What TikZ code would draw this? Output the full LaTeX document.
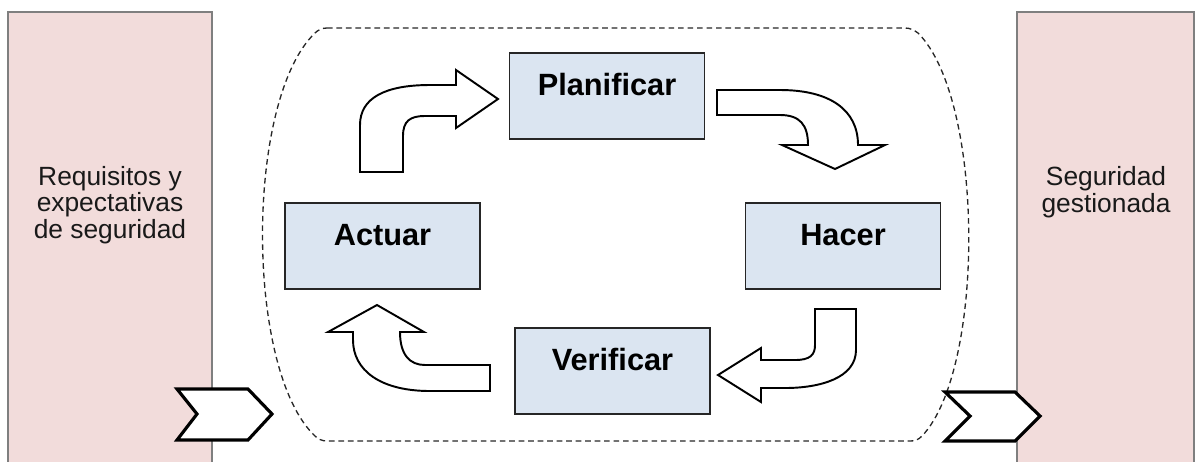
\documentclass[tikz,border=0pt]{standalone}
\usepackage{fontspec}
\setmainfont{Liberation Sans}
\usepackage{xcolor}
\usepackage{tikz}
\definecolor{pinkfill}{HTML}{F2DCDB}
\definecolor{pinkline}{HTML}{7F7F7F}
\definecolor{bluefill}{HTML}{DBE5F1}
\definecolor{boxline}{HTML}{262626}
\tikzset{
  side/.style={draw=pinkline, fill=pinkfill, line width=0.9pt},
  sidetext/.style={align=center, font=\fontsize{15}{15.2}\selectfont, text=black!90},
  phase/.style={draw=boxline, fill=bluefill, line width=1pt, inner sep=0pt,
    minimum width=3.9cm, text height=0.84cm, text depth=0.88cm,
    font=\fontsize{17.5}{20}\selectfont\bfseries},
  chevron/.style={draw=black, fill=white, line width=1.8pt, line join=miter},
  blockarrow/.style={draw=black, fill=white, line width=1.1pt, line join=miter},
  boundary/.style={draw=black!85, line width=0.75pt, dash pattern=on 3.2pt off 2.2pt}
}

\begin{document}
\begin{tikzpicture}[x=0.02cm, y=-0.02cm]
  \useasboundingbox (0,0) rectangle (1195,461);

  % side boxes
  \draw[side] (8,12) rectangle (212,480);
  \draw[side] (1017,12) rectangle (1194,480);
  \node[sidetext] (req) at (110,205) {Requisitos y\\expectativas\\de seguridad};
  \node[sidetext] (out) at (1106,192) {Seguridad\\gestionada};

  % process boundary
  \draw[boundary] (327,28) -- (905,28) .. controls (910,28) and (914,30) .. (918,33)
    .. controls (985,100) and (985,370) .. (922,436) .. controls (918,440) and (915,441) .. (910,441)
    -- (327,441) .. controls (322,441) and (318,439) .. (315,436)
    .. controls (245,370) and (245,100) .. (315,33) .. controls (318,30) and (322,28) .. (327,28) -- cycle;

  % input / output chevrons
  \draw[chevron] (177,389) -- (248,389) -- (272,414) -- (248,440) -- (177,440) -- (197,414) -- cycle;
  \draw[chevron] (945,392) -- (1015,392) -- (1040,416) -- (1015,441) -- (945,441) -- (970,416) -- cycle;

  % PDCA phases
  \node[phase] (plan) at (607,96) {Planificar};
  \node[phase] (act)  at (382.5,246) {Actuar};
  \node[phase] (do)   at (843,246) {Hacer};
  \node[phase] (check) at (612.5,371) {Verificar};

  % cycle arrows
  \draw[blockarrow] (360,172) -- (360,125) .. controls (360,98) and (385,85) .. (430,85)
    -- (456,85) -- (456,70) -- (498,99) -- (456,128) -- (456,116) -- (425,116)
    .. controls (410,116) and (403,121) .. (403,136) -- (403,172) -- cycle;
  \draw[blockarrow] (717,90) -- (780,90) .. controls (830,90) and (858,110) .. (858,145)
    -- (885,145) -- (835,169) -- (782,145) -- (808,145)
    .. controls (808,125) and (800,115) .. (780,115) -- (717,115) -- cycle;
  \draw[blockarrow] (815,309) -- (856,309) -- (856,350) .. controls (856,378) and (820,388) .. (785,388)
    -- (761,388) -- (761,402) -- (718,375) -- (761,348) -- (761,360) -- (795,360)
    .. controls (810,360) and (815,355) .. (815,345) -- cycle;
  \draw[blockarrow] (490,365) -- (490,391) -- (430,391) .. controls (380,391) and (353,370) .. (353,340)
    -- (353,332) -- (328,332) -- (377,305) -- (424,332) -- (400,332)
    .. controls (400,355) and (410,365) .. (425,365) -- cycle;
\end{tikzpicture}
\end{document}
